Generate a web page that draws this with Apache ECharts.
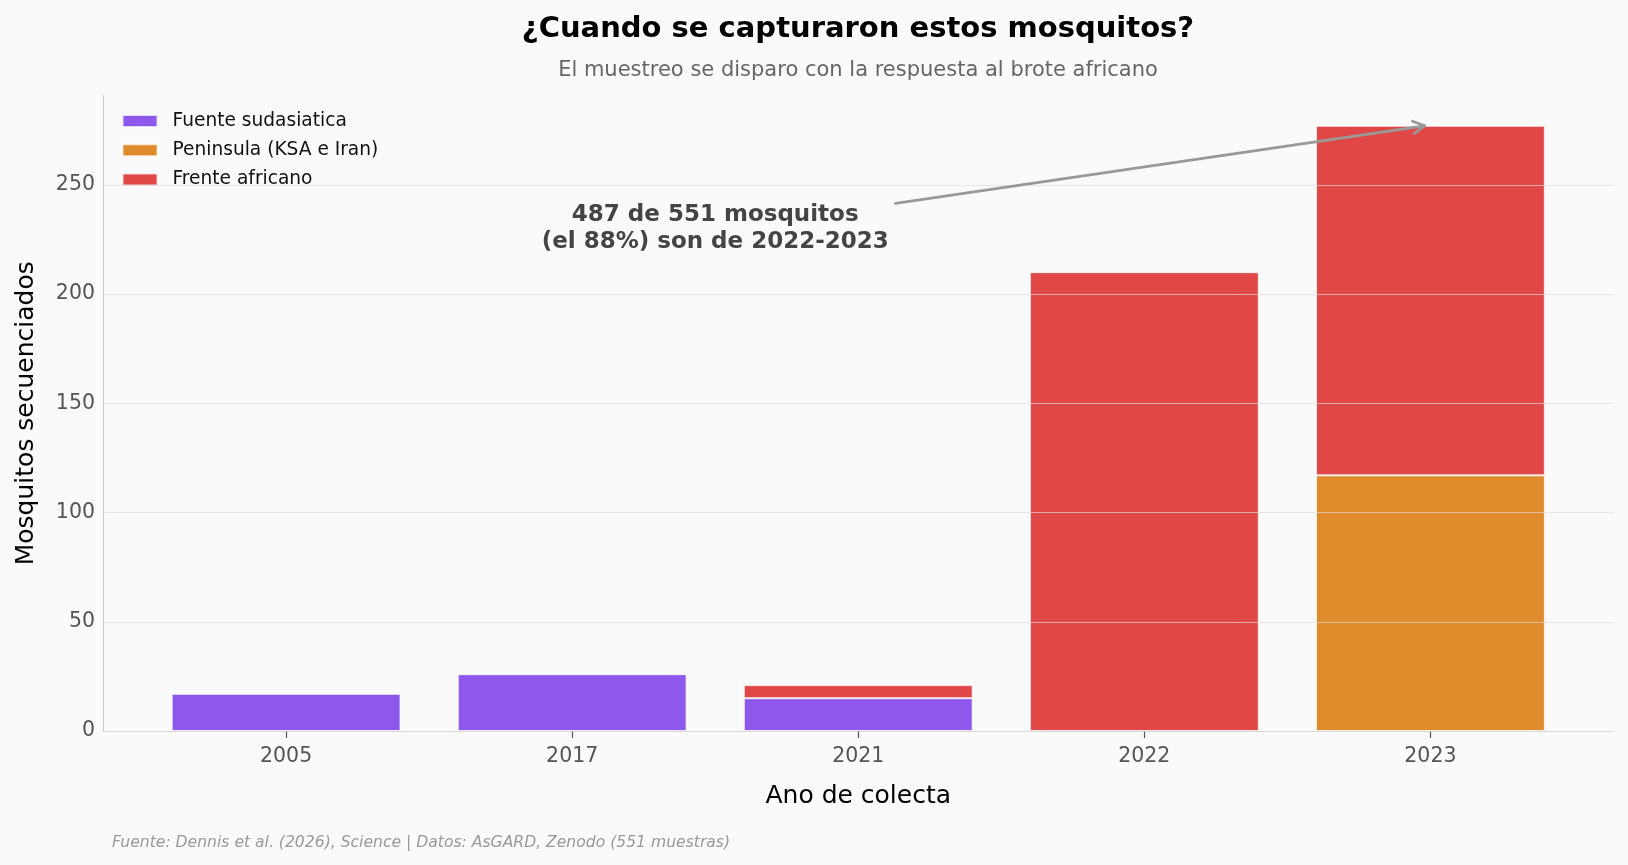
<!DOCTYPE html>
<html>
<head>
<meta charset="utf-8">
<script src="https://cdn.jsdelivr.net/npm/echarts@6/dist/echarts.min.js"></script>
<style>
html,body{margin:0;padding:0;background:#fafafa;}
#chart{width:1628px;height:865px;}
</style>
</head>
<body>
<div id="chart"></div>
<script>
// ---- data ----
const years = ['2005', '2017', '2021', '2022', '2023'];
const seriesNames = ['Fuente sudasiatica', 'Peninsula (KSA e Iran)', 'Frente africano'];
const sudasiatica = [17, 26, 15, null, null];
const peninsula = [null, null, null, null, 117];
const africano = [null, null, 6, 210, 160];
const yTicks = [0, 50, 100, 150, 200, 250];
const titleText = '¿Cuando se capturaron estos mosquitos?';
const subtitleText = 'El muestreo se disparo con la respuesta al brote africano';
const footerText = 'Fuente: Dennis et al. (2026), Science | Datos: AsGARD, Zenodo (551 muestras)';
const annotationLines = ['487 de 551 mosquitos', '(el 88%) son de 2022-2023'];
// annotation anchors in data coordinates (x: category index, y: value)
const annText = [1.5, 230];
const annTail = [2.13, 241.5];
const annHead = [3.98, 277];

const colors = ['#8f58ed', '#df8a2b', '#e04848'];
const FONT = 'DejaVu Sans';

const totals = years.map((_, i) => (sudasiatica[i] || 0) + (peninsula[i] || 0) + (africano[i] || 0));
const yMax = Math.max(...totals) * 1.05;
// matplotlib-style x limits: bars of width 0.8 plus 5% margin
const xMin = -0.4 - 0.05 * (years.length - 1 + 0.8);
const xMax = years.length - 1 + 0.4 + 0.05 * (years.length - 1 + 0.8);

// plot frame
const PL = 103, PR = 14.5, PT = 95.5, PB = 134;
const plotW = 1628 - PL - PR;
const unit = plotW / (xMax - xMin);
const inset = (-0.5 - xMin) * unit;

const chart = echarts.init(document.getElementById('chart'), null, { renderer: 'canvas' });

const barStyle = (c) => ({ color: c, borderColor: 'rgba(255,255,255,0.75)', borderWidth: 1 });

const option = {
  backgroundColor: '#fafafa',
  animation: false,
  title: [
    { text: titleText, left: 858, top: 15, textAlign: 'center', padding: 0,
      textStyle: { fontFamily: FONT, fontSize: 29, fontWeight: 'bold', color: '#000' } },
    { text: subtitleText, left: 858, top: 60.5, textAlign: 'center', padding: 0,
      textStyle: { fontFamily: FONT, fontSize: 21, fontWeight: 'normal', color: '#666' } },
    { text: footerText, left: 112, top: 834.5, padding: 0,
      textStyle: { fontFamily: FONT, fontSize: 15.6, fontStyle: 'italic', fontWeight: 'normal', color: '#999' } }
  ],
  legend: {
    data: seriesNames,
    orient: 'vertical',
    left: 121.5, top: 111.5, padding: 0,
    itemWidth: 35, itemHeight: 12, itemGap: 10.3,
    icon: 'rect',
    textStyle: { fontFamily: FONT, fontSize: 18.6, color: '#111', padding: [0, 0, 0, 10] }
  },
  grid: [
    { left: PL + inset, right: PR + inset, top: PT, bottom: PB, containLabel: false },
    { left: PL, right: PR, top: PT, bottom: PB, containLabel: false }
  ],
  xAxis: [
    {
      gridIndex: 0, type: 'category', data: years, boundaryGap: true,
      axisLine: { show: false },
      axisTick: { show: true, alignWithLabel: true, length: 7, lineStyle: { color: '#555', width: 1.2 } },
      axisLabel: { margin: 15, fontFamily: FONT, fontSize: 20.5, color: '#555' },
      splitLine: { show: false }
    },
    {
      gridIndex: 1, type: 'value', min: xMin, max: xMax,
      name: 'Ano de colecta', nameLocation: 'middle', nameGap: 53,
      nameTextStyle: { fontFamily: FONT, fontSize: 25, color: '#000' },
      axisLine: { show: true, onZero: false, lineStyle: { color: '#cccccc', width: 1.2 } },
      axisTick: { show: false }, axisLabel: { show: false }, splitLine: { show: false }
    }
  ],
  yAxis: [
    { gridIndex: 0, type: 'value', min: 0, max: yMax, show: false },
    {
      gridIndex: 1, type: 'value', min: 0, max: yMax, interval: 50, z: 5,
      name: 'Mosquitos secuenciados', nameLocation: 'middle', nameGap: 64, nameRotate: 90,
      nameTextStyle: { fontFamily: FONT, fontSize: 25, color: '#000' },
      axisLine: { show: true, onZero: false, lineStyle: { color: '#cccccc', width: 1.2 } },
      axisTick: { show: false },
      axisLabel: { showMaxLabel: false, margin: 8, padding: [9, 0, 0, 0], fontFamily: FONT, fontSize: 20.5, color: '#555',
        formatter: (v) => yTicks.includes(v) ? String(v) : '' },
      splitLine: { show: true, showMaxLine: false, lineStyle: { color: 'rgba(220,220,220,0.65)', width: 1 } }
    }
  ],
  series: [
    { name: seriesNames[0], type: 'bar', stack: 'total', barWidth: '80%', xAxisIndex: 0, yAxisIndex: 0, data: sudasiatica, itemStyle: barStyle(colors[0]) },
    { name: seriesNames[1], type: 'bar', stack: 'total', barWidth: '80%', xAxisIndex: 0, yAxisIndex: 0, data: peninsula, itemStyle: barStyle(colors[1]) },
    { name: seriesNames[2], type: 'bar', stack: 'total', barWidth: '80%', xAxisIndex: 0, yAxisIndex: 0, data: africano, itemStyle: barStyle(colors[2]) },
    {
      type: 'custom', silent: true, z: 10, xAxisIndex: 1, yAxisIndex: 1,
      data: [[annText[0], annText[1]]],
      renderItem: function (params, api) {
        const t = api.coord(annText);
        const p0 = api.coord(annTail);
        const p1 = api.coord(annHead);
        const ang = Math.atan2(p1[1] - p0[1], p1[0] - p0[0]);
        const L = 13, a = 0.5;
        const h1 = [p1[0] - L * Math.cos(ang - a), p1[1] - L * Math.sin(ang - a)];
        const h2 = [p1[0] - L * Math.cos(ang + a), p1[1] - L * Math.sin(ang + a)];
        const stroke = { stroke: '#999', lineWidth: 2.8, fill: null, lineCap: 'round', lineJoin: 'round' };
        return {
          type: 'group',
          children: [
            { type: 'line', shape: { x1: p0[0], y1: p0[1], x2: p1[0], y2: p1[1] }, style: stroke },
            { type: 'polyline', shape: { points: [h1, p1, h2] }, style: stroke },
            { type: 'text', x: t[0], y: t[1], style: {
                text: annotationLines.join('\n'), align: 'center', verticalAlign: 'middle',
                font: 'bold 23px "DejaVu Sans"', fill: '#444', lineHeight: 27 } }
          ]
        };
      }
    }
  ]
};
chart.setOption(option);
</script>
</body>
</html>
